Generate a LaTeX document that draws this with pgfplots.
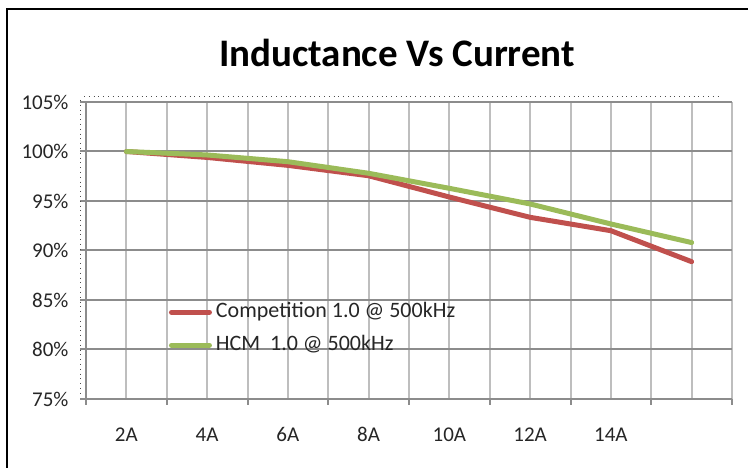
\documentclass[border=0pt]{standalone}
\usepackage{fontspec}
\setmainfont{Carlito}
\usepackage{pgfplots}
\pgfplotsset{compat=1.18}
\definecolor{exred}{HTML}{C0504D}
\definecolor{exgreen}{HTML}{9BBB59}
\definecolor{hgrid}{HTML}{8C8C8C}
\definecolor{vgrid}{HTML}{BEBEBE}
\begin{document}
\begin{tikzpicture}
\useasboundingbox (0pt,0pt) rectangle (748pt,468pt);
\draw[line width=2.5pt, black] (7pt,0pt) -- (7pt,459pt) -- (748pt,459pt);
\node[font=\fontsize{39}{39}\selectfont\bfseries, anchor=base] at (397pt,401pt) {Inductance Vs Current};
\begin{axis}[
  at={(86pt,69pt)}, anchor=south west,
  scale only axis, width=646pt, height=297pt,
  xmin=1, xmax=17, ymin=75, ymax=105,
  axis x line*=bottom, axis y line*=left,
  axis line style={draw=hgrid, line width=2pt, -},
  xtick={1,3,...,17}, xticklabels={},
  extra x ticks={2,4,...,14},
  extra x tick labels={2A,4A,6A,8A,10A,12A,14A},
  extra x tick style={major tick length=0pt, grid=none},
  minor xtick={1,2,...,17},
  xminorgrids=true, xmajorgrids=false,
  ytick={75,80,...,105}, ymajorgrids=true,
  major grid style={draw=hgrid, line width=2pt},
  minor grid style={draw=vgrid, line width=2pt},
  tick align=outside, major tick length=6pt, minor tick length=0pt,
  tick style={draw=hgrid, line width=2pt},
  yticklabel={\pgfmathprintnumber{\tick}\%},
  /pgf/number format/assume math mode=true,
  ticklabel style={font=\fontsize{21}{21}\selectfont, text=black!85},
  yticklabel style={xshift=-8pt},
  xticklabel style={yshift=-25pt},
  legend style={at={(axis cs:3.05,82.1)}, anchor=west, draw=none, fill=none,
    inner sep=0pt, row sep=13pt,
    /tikz/every odd column/.append style={column sep=3pt},
    nodes={inner sep=1pt, font=\fontsize{22}{22}\selectfont, text=black!85, text height=14pt, text depth=4pt}},
  legend cell align=left,
  legend image code/.code={\draw[#1, line cap=round] (0pt,0pt) -- (38pt,0pt);},
]
\addplot[exred, line width=5pt, line cap=round, line join=round] coordinates {(2,100)(4,99.4)(6,98.6)(8,97.55)(10,95.4)(12,93.35)(14,92.0)(16,88.87)};
\addlegendentry{Competition 1.0 @ 500kHz}
\addplot[exgreen, line width=5pt, line cap=round, line join=round] coordinates {(2,100)(4,99.65)(6,98.97)(8,97.8)(10,96.28)(12,94.7)(14,92.68)(16,90.8)};
\addlegendentry{HCM\ \ 1.0 @ 500kHz}
\end{axis}
\draw[dotted, line width=0.6pt, black!70, dash pattern=on 0.8pt off 4pt] (84pt,372pt) -- (722pt,372pt);
\draw[dotted, line width=0.6pt, black!70, dash pattern=on 0.8pt off 4pt] (80pt,368pt) -- (80pt,73pt);
\end{tikzpicture}
\end{document}
